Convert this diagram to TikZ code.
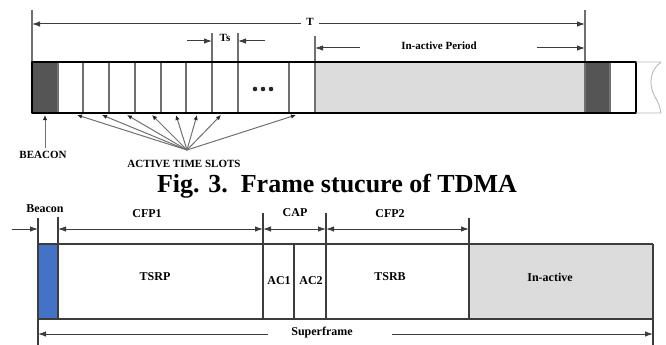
\documentclass[tikz,border=0pt]{standalone}
\usepackage{fontspec}
\setmainfont{Liberation Serif}
\usetikzlibrary{arrows.meta, positioning, calc}
\definecolor{fdark}{HTML}{555555}
\definecolor{fidle}{HTML}{DCDCDC}
\definecolor{fblue}{HTML}{4472C4}
\definecolor{fgrid}{HTML}{707070}
\definecolor{fink}{HTML}{3C3C3C}
\tikzset{
  lbl/.style={font=\fontsize{11}{12}\selectfont\bfseries, inner sep=1pt},
  blbl/.style={font=\fontsize{12}{13}\selectfont\bfseries, inner sep=1pt},
  onearr/.style={-{Latex[length=8pt,width=5.5pt]}, line width=1pt, fink},
  dimarr/.style={{Latex[length=8pt,width=5.5pt]}-{Latex[length=8pt,width=5.5pt]}, line width=1pt, fink},
  slotarr/.style={-{Latex[length=5pt,width=4.5pt,color=black!85]}, line width=1pt, fgrid},
  slotline/.style={line width=1.4pt, fgrid},
  frameline/.style={line width=1.8pt, black},
  sfline/.style={line width=1.4pt, fink},
}
\begin{document}
\begin{tikzpicture}[x=1pt, y=-1pt, line join=round]
  \useasboundingbox (0,0) rectangle (666,345);

  %% -- TDMA frame (top) --
  \fill[fdark] (32,62) rectangle (58,113);
  \fill[fidle] (315,62) rectangle (585,113);
  \fill[fdark] (585,62) rectangle (610,113);
  \foreach \x in {58,83,109,135,161,186,289,610}
    \draw[slotline] (\x,62) -- (\x,113);
  \draw[slotline] (212,33) -- (212,113);
  \draw[slotline] (238,33) -- (238,113);
  \draw[slotline] (315,36) -- (315,113);
  \draw[slotline] (32,10) -- (32,62);
  \draw[slotline] (585,10) -- (585,113);
  \draw[frameline] (32,62) rectangle (636,113);
  % torn edge
  \draw[gray!55, line width=0.9pt] (636,62) -- (661,62)
    .. controls (650,70) and (648,84) .. (655,97)
    .. controls (659,104) .. (661,113) -- (636,113);
  \foreach \x in {255,263,271}
    \fill[black!85] (\x,89) circle (2.3pt);

  % period T
  \node[lbl] (tlbl) at (310,22) {T};
  \coordinate (tL) at (32,24);
  \coordinate (tR) at (585,24);
  \draw[onearr] (tlbl.west |- tL) ++(-4,0) -- (tL);
  \draw[onearr] (tlbl.east |- tR) ++(4,0) -- (tR);

  % slot time Ts
  \node[lbl] (ts) at (225,38) {Ts};
  \coordinate (tsA) at (187,41);
  \coordinate (tsB) at (212,41);
  \coordinate (tsC) at (265,41);
  \coordinate (tsD) at (238,41);
  \draw[onearr] (tsA) -- (tsB);
  \draw[onearr] (tsC) -- (tsD);

  % inactive period
  \node[lbl] (ina) at (439,46) {In-active Period};
  \coordinate (inA) at (360,48);
  \coordinate (inB) at (315,48);
  \coordinate (inC) at (537,48);
  \coordinate (inD) at (585,48);
  \draw[onearr] (inA) -- (inB);
  \draw[onearr] (inC) -- (inD);

  % pointers
  \node[lbl] (beacon) at (43,155) {BEACON};
  \node[lbl] (slots) at (184,164) {ACTIVE TIME SLOTS};
  \coordinate (hub) at (187,150);
  \coordinate (bcTip) at (45,115);
  \draw[slotarr] (45,148) -- (bcTip);
  \foreach \x in {77,102,127,152,176,197,221,296}
    \draw[slotarr] (hub) -- (\x,115);

  % caption
  \node[font=\fontsize{26}{28}\selectfont\bfseries, inner sep=0pt] (cap) at (337,186)
    {Fig. 3.\ \ Frame stucure of TDMA};

  %% -- Superframe (bottom) --
  \fill[fblue] (38,244) rectangle (58,319);
  \fill[fidle] (469,244) rectangle (653,319);
  \draw[sfline] (38,244) -- (653,244);
  \draw[sfline] (38,319) -- (653,319);
  \draw[sfline] (38,218) -- (38,345);
  \draw[sfline] (58,217) -- (58,319);
  \draw[sfline] (263,213) -- (263,319);
  \draw[sfline] (294,244) -- (294,319);
  \draw[sfline] (326,213) -- (326,319);
  \draw[sfline] (469,218) -- (469,319);
  \draw[sfline] (653,244) -- (653,345);

  \node[blbl] (bcn) at (45,209) {Beacon};
  \node[blbl] (cfp1) at (147,214) {CFP1};
  \node[blbl] (capl) at (295,213) {CAP};
  \node[blbl] (cfp2) at (390,214) {CFP2};
  \coordinate (b0) at (12,229);
  \coordinate (b1) at (38,229);
  \coordinate (b2) at (58,229);
  \coordinate (b3) at (263,229);
  \coordinate (b4) at (326,229);
  \coordinate (b5) at (469,229);
  \draw[onearr] (b0) -- (b1);
  \draw[dimarr] (b2) -- (b3);
  \draw[dimarr] (b3) -- (b4);
  \draw[dimarr] (b4) -- (b5);

  \node[blbl] (tsrp) at (155,277) {TSRP};
  \node[blbl] (ac1) at (279,281) {AC1};
  \node[blbl] (ac2) at (311,281) {AC2};
  \node[blbl] (tsrb) at (390,277) {TSRB};
  \node[blbl] (idle) at (550,277) {In-active};

  \node[blbl] (sf) at (322,333) {Superframe};
  \coordinate (sfL) at (268,334);
  \coordinate (sfR) at (392,334);
  \coordinate (sfA) at (38,334);
  \coordinate (sfB) at (653,334);
  \draw[onearr] (sfL) -- (sfA);
  \draw[onearr] (sfR) -- (sfB);
\end{tikzpicture}
\end{document}
